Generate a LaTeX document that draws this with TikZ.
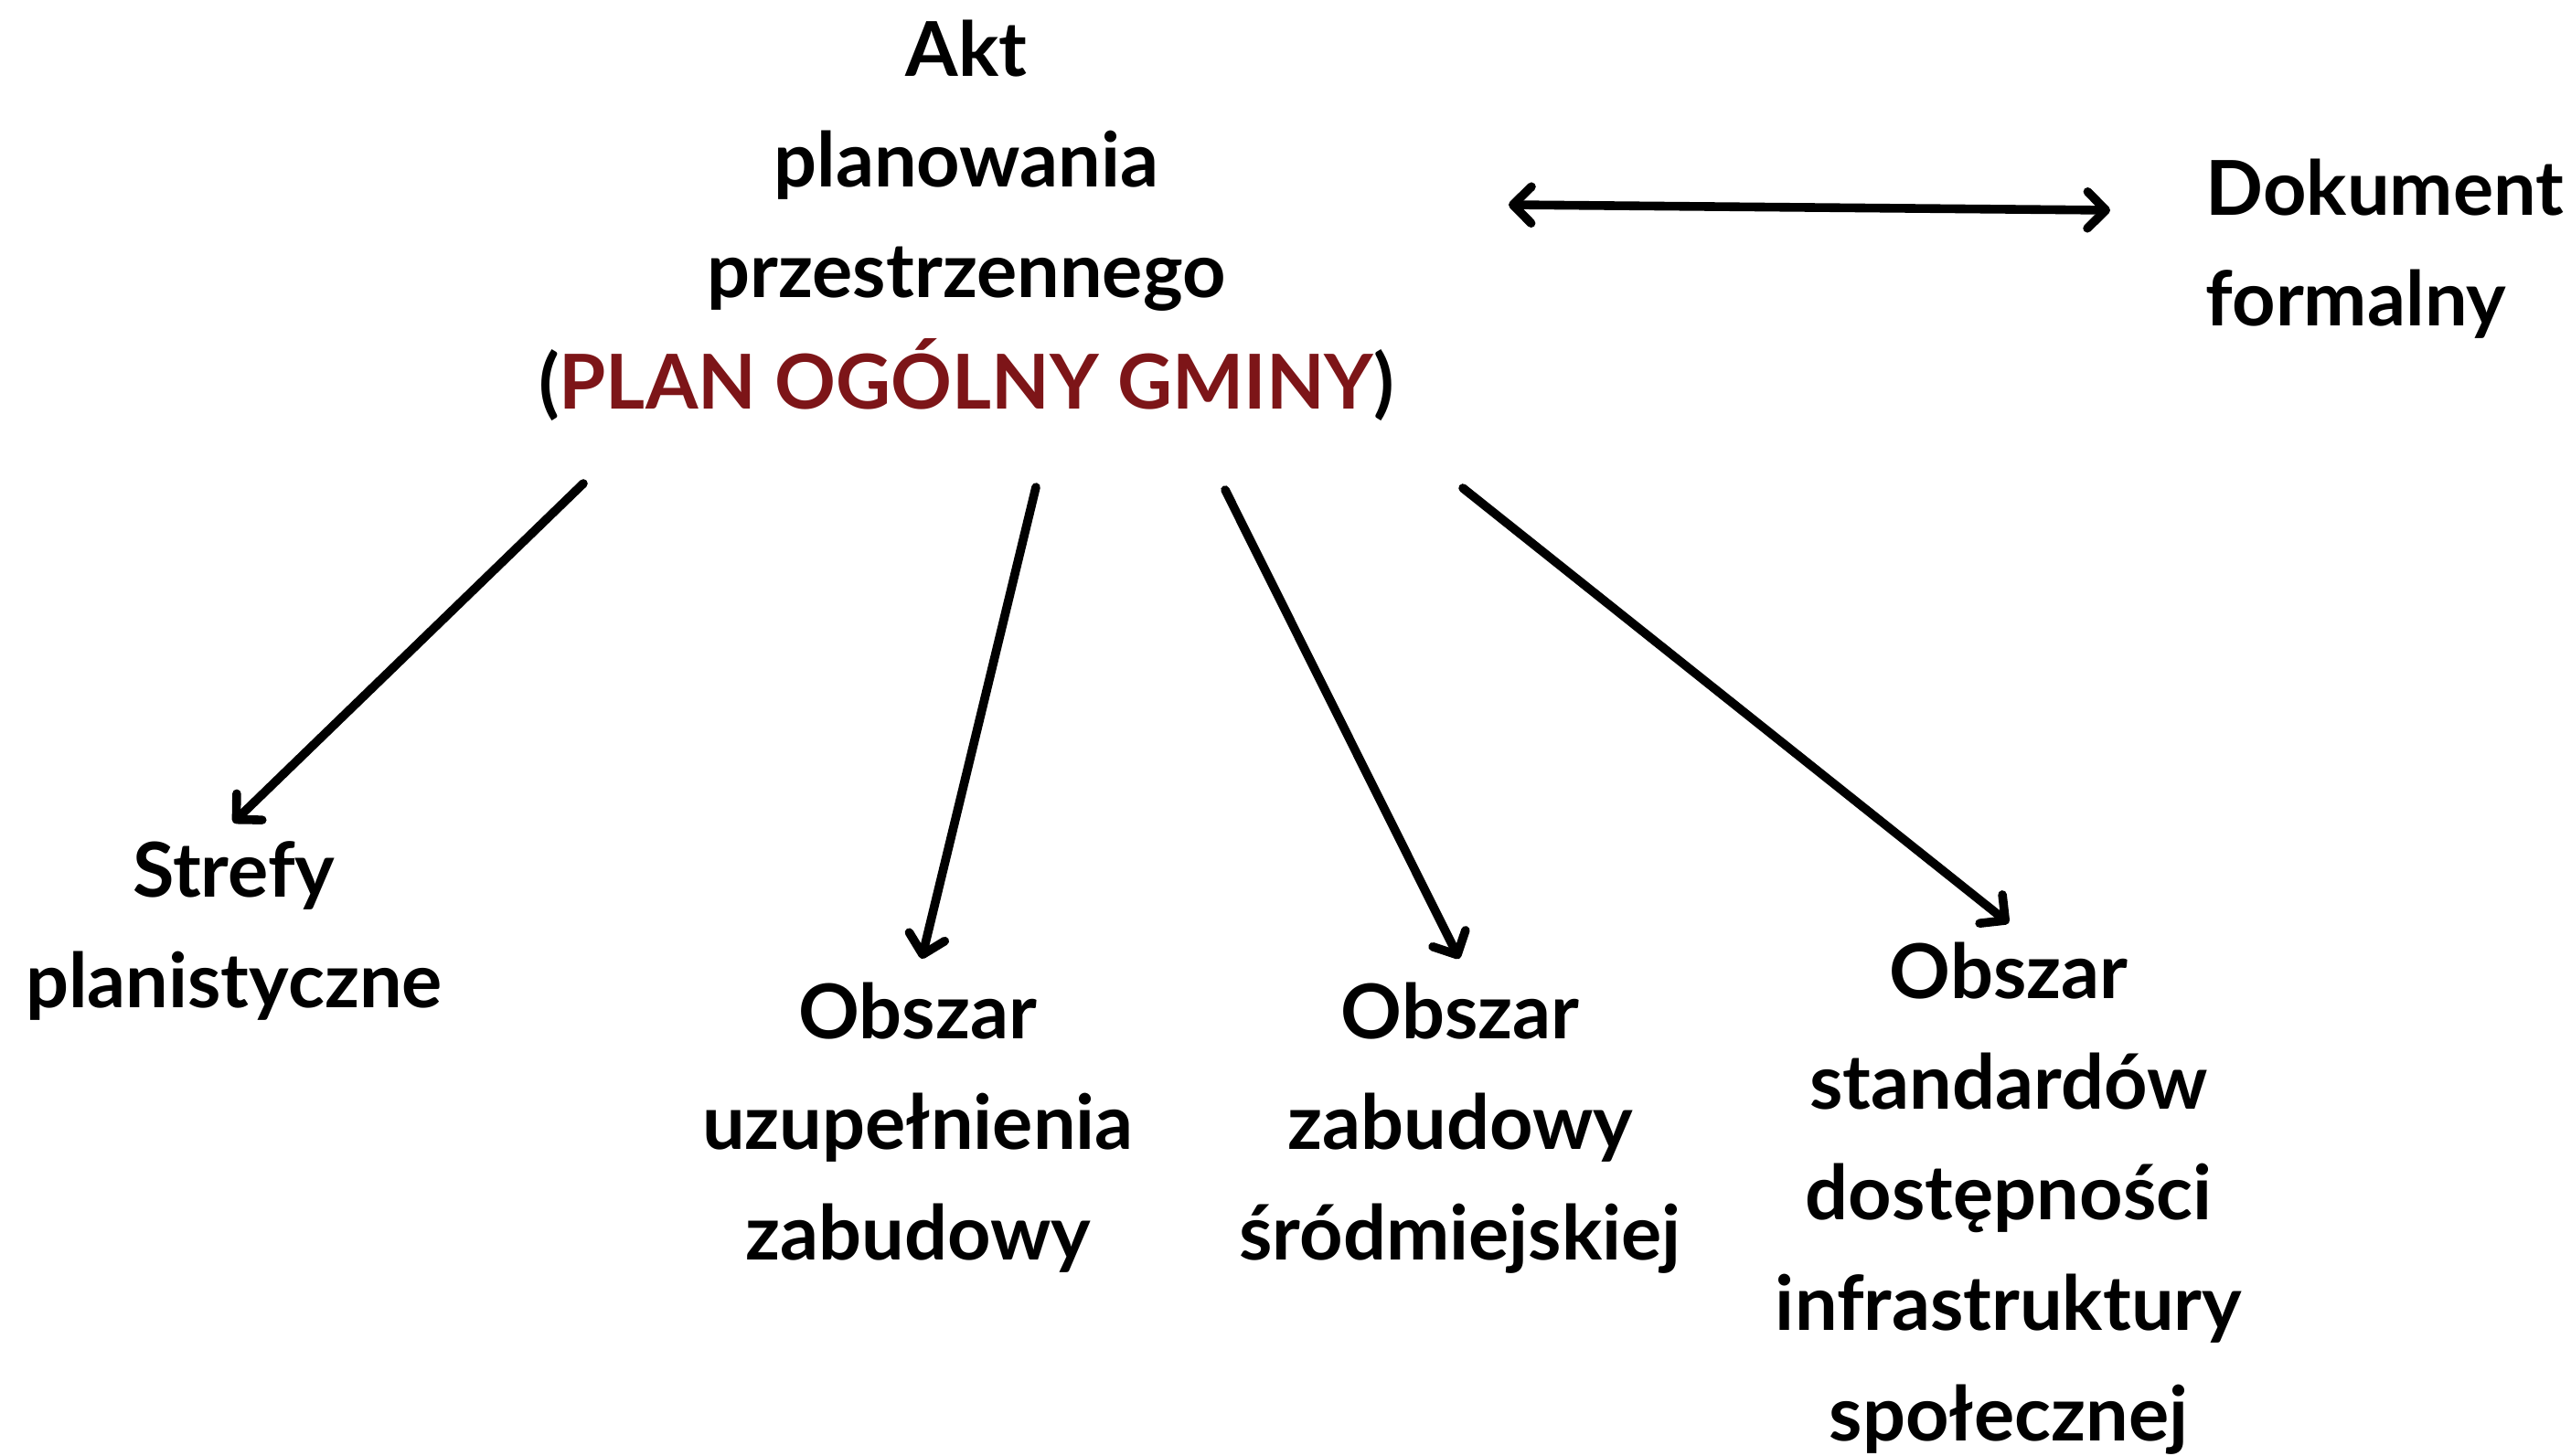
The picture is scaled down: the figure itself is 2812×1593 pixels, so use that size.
\documentclass[tikz,border=0pt]{standalone}
\usepackage{fontspec}
\setmainfont{Lato}
\usetikzlibrary{arrows.meta}
\definecolor{planred}{RGB}{125,21,24}
\begin{document}
\begin{tikzpicture}[x=0.25pt,y=-0.25pt,
  lbl/.style={font=\fontsize{20.7pt}{30.25pt}\selectfont\bfseries, align=center, inner sep=0pt, anchor=base},
  barb/.tip={Straight Barb[length=5pt,width=10pt,line cap=round,line join=round]},
  conn/.style={line width=2.4pt, line cap=round, -barb},
  dconn/.style={line width=2.4pt, line cap=round, barb-barb},
]
\useasboundingbox (0,0) rectangle (2812,1593);

% anchor=base is the baseline of the last line
\node[lbl] (akt) at (1057,447) {Akt\\planowania\\przestrzennego\\(\textcolor{planred}{PLAN OGÓLNY GMINY})};
\node[lbl, align=left, anchor=base west] (dok) at (2412,357) {Dokument\\formalny};
\node[lbl] (strefy) at (256,1102) {Strefy\\planistyczne};
\node[lbl] (uzup) at (1004,1378) {Obszar\\uzupełnienia\\zabudowy};
\node[lbl] (srod) at (1597,1378) {Obszar\\zabudowy\\śródmiejskiej};
\node[lbl] (stand) at (2197,1576) {Obszar\\standardów\\dostępności\\infrastruktury\\społecznej};

\coordinate (d1) at (1650,224);
\coordinate (d2) at (2308,230);
\coordinate (s1) at (638,529);
\coordinate (t1) at (255,900);
\coordinate (s2) at (1133,533);
\coordinate (t2) at (1008,1049);
\coordinate (s3) at (1340,536);
\coordinate (t3) at (1596,1049);
\coordinate (s4) at (1600,534);
\coordinate (t4) at (2197,1010);

\draw[dconn] (d1) -- (d2);
\draw[conn] (s1) -- (t1);
\draw[conn] (s2) -- (t2);
\draw[conn] (s3) -- (t3);
\draw[conn] (s4) -- (t4);
\end{tikzpicture}
\end{document}
